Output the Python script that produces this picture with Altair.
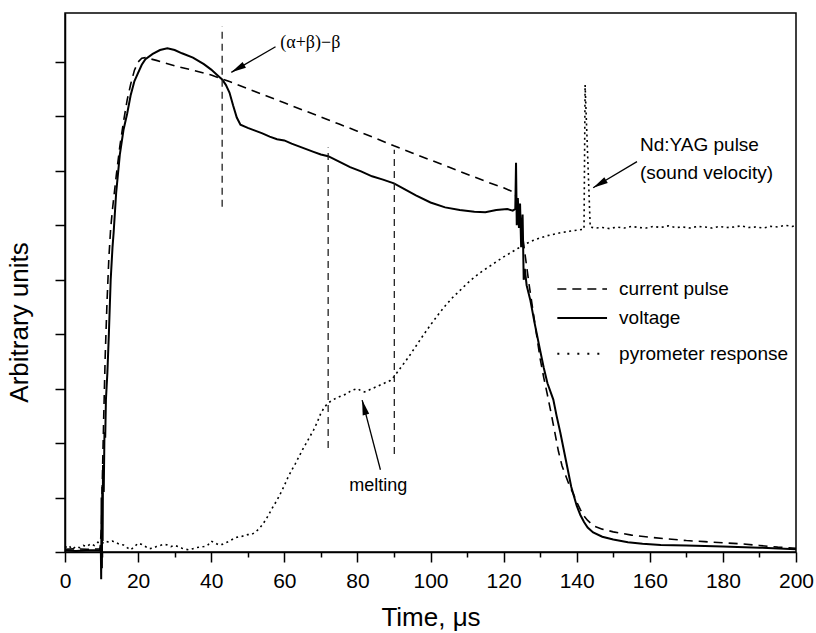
import math
import altair as alt
import pandas as pd

# ---------------- data ----------------
cur_t = [0, 3, 6, 9.6, 10.0, 10.3, 10.6, 11.0, 11.5, 12.0, 12.5, 13.0, 14, 15, 16, 17, 18, 19, 20, 21, 22,
         25, 30, 35, 40, 45, 50, 55, 60, 65, 70, 75, 80, 85, 90, 95, 100, 105, 110, 115, 120, 123,
         124, 125, 126, 127, 128, 129, 130, 131, 132, 133, 134, 135, 136, 137, 138, 139, 140, 141, 142, 143, 144, 145,
         147, 150, 155, 160, 165, 170, 175, 180, 185, 190, 195, 200]
cur_v = [0.05, 0.06, 0.05, 0.06, 0.5, 1.6, 2.5, 3.6, 4.6, 5.4, 5.95, 6.3, 6.9, 7.45, 7.9, 8.3, 8.6, 8.85, 9.0, 9.07, 9.08,
         9.03, 8.93, 8.85, 8.76, 8.64, 8.51, 8.38, 8.25, 8.12, 7.99, 7.86, 7.73, 7.6, 7.46, 7.33, 7.2, 7.07, 6.94, 6.81, 6.69, 6.6,
         6.4, 5.9, 5.4, 4.9, 4.45, 4.0, 3.55, 3.2, 2.88, 2.55, 2.2, 1.85, 1.58, 1.4, 1.22, 1.08, 0.92, 0.78, 0.66, 0.58, 0.52, 0.47,
         0.42, 0.37, 0.31, 0.27, 0.24, 0.21, 0.19, 0.17, 0.15, 0.12, 0.09, 0.07]

volt_t = [0, 3, 6, 9.5,
          9.8, 9.9, 10.0, 10.1, 10.2, 10.3, 10.4, 10.6, 10.8, 11.0, 11.2, 11.6, 12.0, 12.5, 13.0, 13.3,
          14, 15, 16, 17, 18, 19, 20, 21, 22,
          24, 26, 28, 30, 32, 35, 38, 40, 42, 43, 44, 45, 46, 47, 48,
          50, 52, 54, 56, 58, 60, 62, 64, 66, 68, 70, 72,
          75, 78, 81, 84, 87, 90, 93, 96,
          100, 104, 108, 112, 115, 118, 121,
          122.5, 123.2, 123.4, 123.6, 123.9, 124.2, 124.5, 124.8, 125.2, 125.5, 125.8, 126.3,
          127.3, 128.5, 130, 131, 132, 133.6, 134.5, 135.5, 137, 138.5,
          140, 141, 142, 143, 144.5, 147, 150, 154, 158, 163, 170, 180, 190, 200]
volt_v = [0.03, 0.02, 0.03, 0.03,
          0.1, -0.5, 1.0, -0.3, 1.2, 0.2, 1.6, 1.1, 2.2, 2.1, 2.8, 3.3, 4.0, 5.0, 5.6, 5.86,
          6.6, 7.3, 7.75, 8.05, 8.4, 8.65, 8.8, 8.95, 9.05,
          9.15, 9.22, 9.25, 9.22, 9.16, 9.08, 8.96, 8.86, 8.74, 8.68, 8.58, 8.44, 8.2, 7.98, 7.85,
          7.79, 7.74, 7.69, 7.63, 7.58, 7.56, 7.5, 7.45, 7.4, 7.35, 7.3, 7.27,
          7.17, 7.07, 6.99, 6.9, 6.84, 6.77, 6.66, 6.55,
          6.42, 6.33, 6.28, 6.25, 6.24, 6.28, 6.3,
          6.27, 6.3, 7.15, 6.0, 6.5, 5.95, 6.4, 5.6, 6.2, 5.0, 5.2, 4.9,
          4.63, 4.2, 3.7, 3.38, 3.1, 2.8, 2.5, 2.2, 1.7, 1.2,
          0.85, 0.68, 0.55, 0.45, 0.36, 0.28, 0.23, 0.18, 0.15, 0.13, 0.12, 0.1, 0.08, 0.05]

pyro_t = [0, 1, 2, 3, 4, 5, 6, 7, 8, 9,
          10, 11, 12, 13, 14, 15, 16, 17, 18, 19,
          20, 21, 22, 23, 24, 25, 26, 27, 28, 29,
          30, 31, 32, 33, 34, 35, 36, 37, 38, 39,
          40, 41, 42, 43, 44, 45, 46, 47, 48, 49,
          50, 51, 52, 53, 54, 55, 56, 57, 58, 59,
          60, 61, 62, 63, 64, 65, 66, 67, 68, 69,
          70, 71, 72, 73, 74, 75, 76, 77, 78, 79,
          80, 81, 82, 83, 84, 85, 86, 87, 88, 89,
          90, 92, 94, 96, 98, 100, 102, 104, 106, 108,
          110, 112, 114, 116, 118, 120, 122, 124, 126, 128,
          130, 132, 134, 136, 138, 140, 142, 142.3, 143.7,
          145, 147, 149, 151, 153, 155, 157, 159, 161, 163,
          165, 167, 169, 171, 173, 175, 177, 179, 181, 183,
          185, 187, 189, 191, 193, 195, 197, 199, 200]
pyro_v = [0.08, 0.12, 0.05, 0.1, 0.08, 0.12, 0.1, 0.15, 0.12, 0.18,
          0.15, 0.2, 0.18, 0.2, 0.17, 0.14, 0.13, 0.08, 0.04, 0.1,
          0.16, 0.14, 0.1, 0.06, 0.07, 0.1, 0.12, 0.14, 0.13, 0.1,
          0.12, 0.1, 0.07, 0.05, 0.04, 0.06, 0.08, 0.09, 0.1, 0.12,
          0.2, 0.17, 0.13, 0.14, 0.17, 0.2, 0.24, 0.27, 0.28, 0.3,
          0.32, 0.32, 0.36, 0.42, 0.5, 0.6, 0.72, 0.84, 0.95, 1.08,
          1.22, 1.37, 1.5, 1.62, 1.75, 1.88, 2.0, 2.12, 2.24, 2.38,
          2.55, 2.66, 2.74, 2.78, 2.82, 2.85, 2.88, 2.9, 2.95, 2.98,
          3.0, 2.96, 2.94, 2.97, 3.0, 3.03, 3.06, 3.09, 3.12, 3.15,
          3.22, 3.4, 3.58, 3.78, 3.98, 4.17, 4.35, 4.52, 4.67, 4.8,
          4.93, 5.05, 5.15, 5.24, 5.33, 5.42, 5.5, 5.58, 5.66, 5.72,
          5.77, 5.81, 5.84, 5.87, 5.89, 5.91, 5.93, 8.58, 5.97,
          5.95, 5.96, 5.94, 5.97, 5.95, 5.98, 5.96, 5.95, 5.98, 5.96,
          5.99, 5.96, 5.97, 5.95, 5.98, 5.97, 5.95, 5.98, 5.96, 5.97,
          5.99, 5.96, 5.97, 5.95, 5.98, 5.97, 6.0, 5.98, 6.0]

x_major_ticks = [0, 20, 40, 60, 80, 100, 120, 140, 160, 180, 200]
x_minor_ticks = [10, 30, 50, 70, 90, 110, 130, 150, 170, 190]
y_ticks = [0, 1, 2, 3, 4, 5, 6, 7, 8, 9]

# vertical dashed markers
marker_t = [43, 72, 90.1]
marker_top = [9.65, 7.43, 7.39]
marker_bottom = [6.34, 1.91, 1.80]

# legend
legend_labels = ["current pulse", "voltage", "pyrometer response"]

# ---------------- layout / style ----------------
W, H = 731, 539
XMAX, YMAX = 200, 9.9
FONT = "Liberation Sans"
SERIF = "Liberation Serif"

XS = alt.Scale(domain=[0, XMAX], nice=False, zero=False)
YS = alt.Scale(domain=[0, YMAX], nice=False, zero=False)


def enc_xy(xf="t", yf="v", xaxis=None, yaxis=None):
    return dict(x=alt.X(f"{xf}:Q", scale=XS, axis=xaxis),
                y=alt.Y(f"{yf}:Q", scale=YS, axis=yaxis))


cur_df = pd.DataFrame({"t": cur_t, "v": cur_v})
volt_df = pd.DataFrame({"t": volt_t, "v": volt_v})
pyro_df = pd.DataFrame({"t": pyro_t, "v": pyro_v})

major_axis = alt.Axis(values=x_major_ticks, format="d", labelFontSize=21, labelFont=FONT,
                      labelColor="black", tickSize=10, tickWidth=1.5, domainWidth=1.5,
                      domainColor="black", tickColor="black", grid=False, labelFlush=False,
                      labelPadding=8, title="Time, μs", titleFont=FONT, titleFontSize=26,
                      titleFontWeight="normal", titleColor="black", titlePadding=13,
                      orient="bottom")
minor_axis = alt.Axis(values=x_minor_ticks, labels=False, tickSize=5, tickWidth=1.5,
                      domain=False, tickColor="black", grid=False, title=None, orient="bottom")
y_axis = alt.Axis(values=y_ticks, labels=False, tickSize=10, tickWidth=1.5, domainWidth=1.5,
                  domainColor="black", tickColor="black", grid=False, title="Arbitrary units",
                  titleFont=FONT, titleFontSize=26, titleFontWeight="normal", titleColor="black",
                  titleX=-33, titleY=309, orient="left")

volt_line = alt.Chart(volt_df).mark_line(color="black", strokeWidth=2).encode(
    **enc_xy(xaxis=major_axis, yaxis=y_axis), order="t:Q")
cur_line = alt.Chart(cur_df).mark_line(color="black", strokeWidth=1.6, strokeDash=[9, 6]).encode(
    **enc_xy(xaxis=minor_axis), order="t:Q")
pyro_line = alt.Chart(pyro_df).mark_line(color="black", strokeWidth=1.6, strokeDash=[2, 3.5]).encode(
    **enc_xy(), order="t:Q")

markers_df = pd.DataFrame({"t": marker_t, "top": marker_top, "bottom": marker_bottom})
markers = alt.Chart(markers_df).mark_rule(color="#222", strokeWidth=1.3, strokeDash=[7, 5]).encode(
    x=alt.X("t:Q", scale=XS, axis=None),
    y=alt.Y("bottom:Q", scale=YS, axis=None),
    y2="top:Q")

# arrows (tail -> tip)
arrows_df = pd.DataFrame({
    "x0": [57.6, 156.5, 86.3],
    "y0": [9.28, 7.17, 1.51],
    "x1": [45.5, 144.5, 81.3],
    "y1": [8.81, 6.69, 2.79],
})
kx, ky = W / XMAX, H / YMAX
arrows_df["ang"] = [
    (math.degrees(math.atan2((x1 - x0) * kx, (y1 - y0) * ky)) + 360) % 360
    for x0, y0, x1, y1 in zip(arrows_df.x0, arrows_df.y0, arrows_df.x1, arrows_df.y1)
]
arrow_lines = alt.Chart(arrows_df).mark_rule(color="black", strokeWidth=1.3).encode(
    x=alt.X("x0:Q", scale=XS, axis=None), y=alt.Y("y0:Q", scale=YS, axis=None),
    x2="x1:Q", y2="y1:Q")
arrow_heads = alt.Chart(arrows_df).mark_point(
    shape="M0,0 L0.45,2 L-0.45,2 Z", filled=True, color="black", opacity=1, size=225, strokeWidth=0
).encode(
    x=alt.X("x1:Q", scale=XS, axis=None), y=alt.Y("y1:Q", scale=YS, axis=None),
    angle=alt.Angle("ang:Q", scale=None))

# annotation texts
sans_df = pd.DataFrame({"label": ["Nd:YAG pulse", "(sound velocity)"],
                        "x": [157.3, 157.3], "y": [7.48, 6.97]})
sans_text = alt.Chart(sans_df).mark_text(align="left", baseline="middle", font=FONT,
                                         fontSize=19, color="black").encode(
    x=alt.X("x:Q", scale=XS, axis=None), y=alt.Y("y:Q", scale=YS, axis=None), text="label:N")
melt_df = pd.DataFrame({"label": ["melting"], "x": [85.7], "y": [1.21]})
melt_text = alt.Chart(melt_df).mark_text(align="center", baseline="middle", font=FONT,
                                         fontSize=18, color="black").encode(
    x=alt.X("x:Q", scale=XS, axis=None), y=alt.Y("y:Q", scale=YS, axis=None), text="label:N")
serif_df = pd.DataFrame({"label": ["(α+β)−β"], "x": [58.9], "y": [9.35]})
serif_text = alt.Chart(serif_df).mark_text(align="left", baseline="middle", font=SERIF,
                                           fontSize=18, color="black").encode(
    x=alt.X("x:Q", scale=XS, axis=None), y=alt.Y("y:Q", scale=YS, axis=None), text="label:N")

# legend (manual)
leg_y = [4.83, 4.30, 3.64]
leg_dash = [[9, 6], [1, 0], [2, 8]]
leg_width = [1.6, 2, 2]
leg_layers = []
for lab, yy, dash, sw in zip(legend_labels, leg_y, leg_dash, leg_width):
    d = pd.DataFrame({"x0": [134.7], "x1": [148.3], "y": [yy], "label": [lab], "xt": [151.6]})
    leg_layers.append(alt.Chart(d).mark_rule(color="black", strokeWidth=sw, strokeDash=dash).encode(
        x=alt.X("x0:Q", scale=XS, axis=None), x2="x1:Q", y=alt.Y("y:Q", scale=YS, axis=None)))
    leg_layers.append(alt.Chart(d).mark_text(align="left", baseline="middle", font=FONT,
                                             fontSize=19, color="black").encode(
        x=alt.X("xt:Q", scale=XS, axis=None), y=alt.Y("y:Q", scale=YS, axis=None), text="label:N"))

chart = alt.layer(
    volt_line, cur_line, pyro_line, markers, arrow_lines, arrow_heads,
    sans_text, melt_text, serif_text, *leg_layers
).resolve_axis(x="independent", y="independent").properties(
    width=W, height=H,
    autosize=alt.AutoSizeParams(type="none"),
    padding={"left": 65, "top": 13, "right": 20, "bottom": 81},
    background="white",
).configure_view(stroke="black", strokeWidth=1.5)

chart.save("out.html", embed_options={"renderer": "svg", "actions": False})
